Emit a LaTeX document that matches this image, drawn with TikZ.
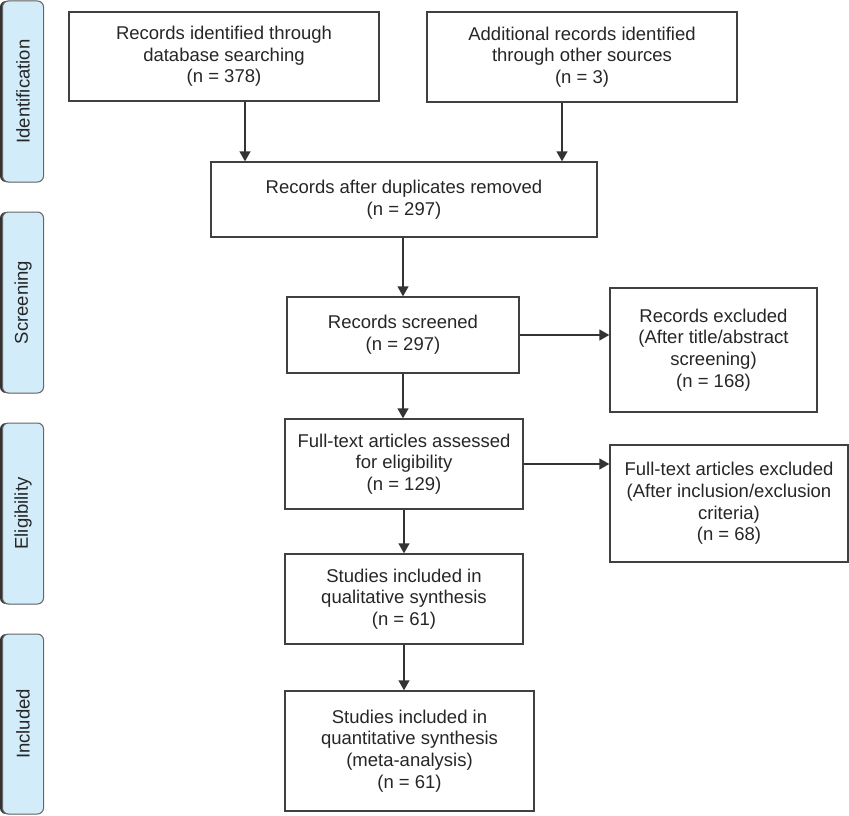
\documentclass[tikz,border=0pt]{standalone}
\usepackage{fontspec}
\setmainfont{Liberation Sans}
\usetikzlibrary{arrows.meta,shadows}
\definecolor{stagefill}{HTML}{D2ECFA}

\begin{document}
\begin{tikzpicture}[x=1pt,y=-1pt]
        \tikzstyle{every node}=[font=\fontsize{18.5}{21.7}\selectfont, text=black!85]
        \tikzstyle{box}=[rectangle, draw=black!75, line width=1.4pt, align=center, inner sep=0pt]
        \tikzstyle{stage}=[rectangle, rounded corners=6pt, draw=black!60, line width=1pt, fill=stagefill, minimum width=41pt, minimum height=181pt, inner sep=0pt, drop shadow={shadow xshift=-2.5pt, shadow yshift=0pt, opacity=1, fill=black!80}]
        \tikzstyle{flow}=[-{Triangle[length=10pt,width=11pt]}, line width=1.4pt, draw=black!80]
        \useasboundingbox (0,0) rectangle (849,816);
        % stages
        \node[stage] (sident) at (23,91.5) {\rotatebox{90}{Identification}};
        \node[stage] (sscreen) at (23,302.5) {\rotatebox{90}{Screening}};
        \node[stage] (selig) at (23,513.5) {\rotatebox{90}{Eligibility}};
        \node[stage, minimum height=180pt] (sincl) at (23,724) {\rotatebox{90}{Included}};
        % boxes
        \node[box, minimum width=310pt, minimum height=89pt] (db) at (224,56.5) {Records identified through\\database searching\\(n = 378)};
        \node[box, minimum width=310pt, minimum height=90pt] (other) at (582,57) {Additional records identified\\through other sources\\(n = 3)};
        \node[box, minimum width=386pt, minimum height=75pt] (dup) at (404,199.5) {Records after duplicates removed\\(n = 297)};
        \node[box, minimum width=232pt, minimum height=76pt] (screen) at (403,335) {Records screened\\(n = 297)};
        \node[box, minimum width=207pt, minimum height=124pt] (screenex) at (713.5,350) {Records excluded\\(After title/abstract\\screening)\\(n = 168)};
        \node[box, minimum width=238pt, minimum height=90pt] (full) at (404,464) {Full-text articles assessed\\for eligibility\\(n = 129)};
        \node[box, minimum width=238pt, minimum height=117pt] (fullex) at (729,503.5) {Full-text articles excluded\\(After inclusion/exclusion\\criteria)\\(n = 68)};
        \node[box, minimum width=238pt, minimum height=90pt] (qual) at (404,599) {Studies included in\\qualitative synthesis\\(n = 61)};
        \node[box, minimum width=249pt, minimum height=120pt] (quant) at (409.5,751) {Studies included in\\quantitative synthesis\\(meta-analysis)\\(n = 61)};
        % connectors
        \coordinate (adb) at (245,0);
        \coordinate (aother) at (562,0);
        \draw[flow] (adb |- db.south) -- (adb |- dup.north);
        \draw[flow] (aother |- other.south) -- (aother |- dup.north);
        \draw[flow] (screen.north |- dup.south) -- (screen.north);
        \draw[flow] (screen.south) -- (screen.south |- full.north);
        \draw[flow] (screen.east) -- (screen.east -| screenex.west);
        \draw[flow] (full.east) -- (full.east -| fullex.west);
        \draw[flow] (full.south) -- (qual.north);
        \draw[flow] (qual.south) -- (qual.south |- quant.north);
\end{tikzpicture}
\end{document}
